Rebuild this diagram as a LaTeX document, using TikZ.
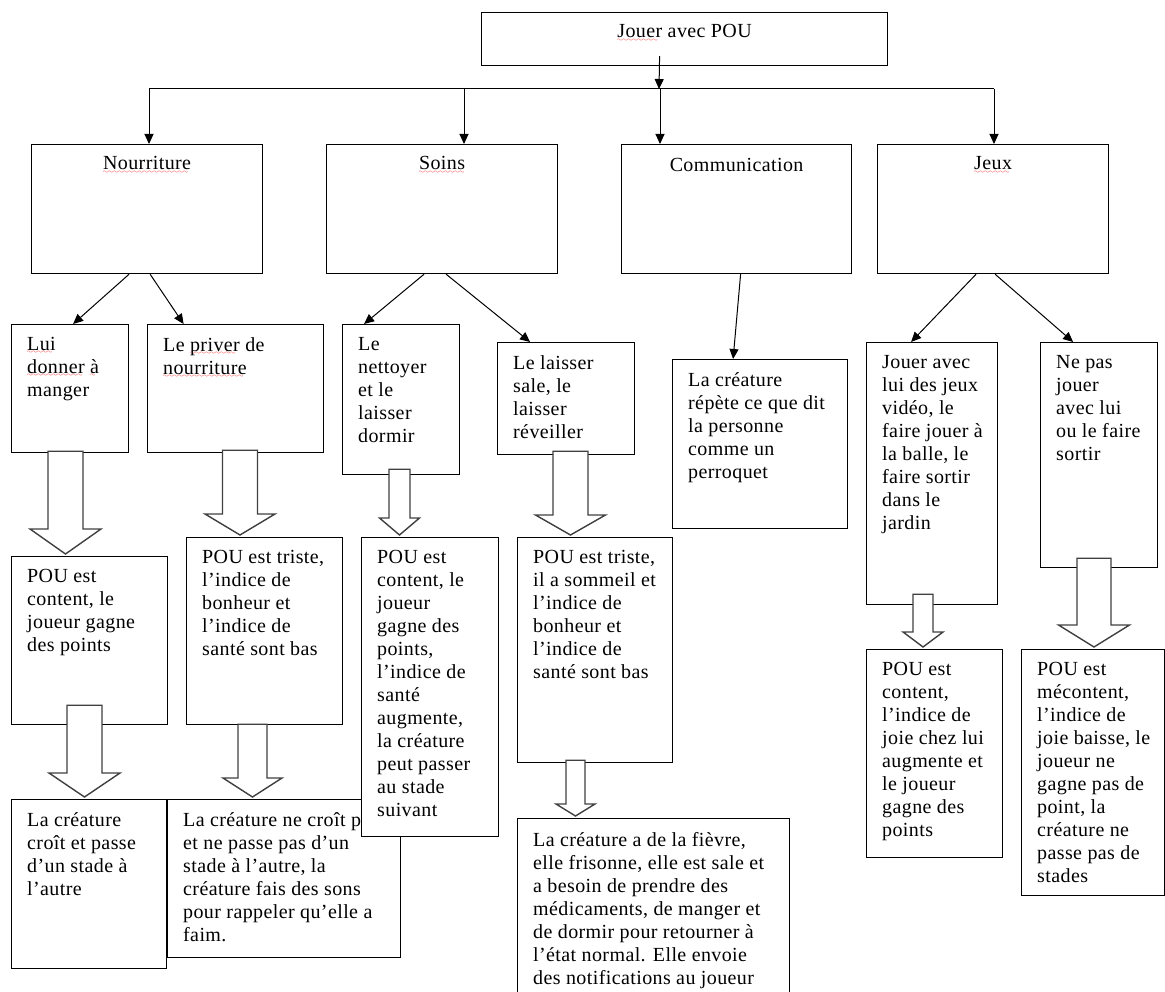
\documentclass[tikz,border=0pt]{standalone}
\usepackage{fontspec}
\setmainfont[LetterSpace=2]{Liberation Serif}
\usepackage{tikz}
\usetikzlibrary{arrows.meta,calc}

% soulignement rouge du correcteur
\font\sixly=lasy6
\newcommand{\faute}[1]{\setbox0\hbox{#1}\rlap{\textcolor{red}{\lower3.5pt\hbox to \wd0{\leaders\hbox{\sixly\char58}\hfil}}}\box0\relax}

% grosse fleche creuse : x, depart, arrivee, recouvrement, demi-tige, demi-tete, longueur tete
\newcommand{\grossefleche}[7]{%
  \draw[creuse] let \p1=(#2.south), \p2=(#3.north) in
    ({#1pt-#5pt},{\y1+#4pt}) -- ({#1pt-#5pt},{\y2+#7pt+2pt})
    -- ({#1pt-#6pt},{\y2+#7pt+2pt}) -- ({#1pt},{\y2+2pt})
    -- ({#1pt+#6pt},{\y2+#7pt+2pt}) -- ({#1pt+#5pt},{\y2+#7pt+2pt})
    -- ({#1pt+#5pt},{\y1+#4pt}) -- cycle;}

\tikzset{
  boite/.style={draw, line width=1.2pt, fill=white, anchor=north west, inner sep=0pt},
  texte/.style={anchor=north west, inner sep=0pt, align=left, font=\fontsize{20}{23}\selectfont},
  titre/.style={inner sep=0pt, font=\fontsize{20}{23}\selectfont},
  fil/.style={-{Triangle[length=10pt,width=9pt]}, line width=1pt},
  creuse/.style={draw=black!75, line width=1.4pt, fill=white, line join=miter},
}

\begin{document}
\begin{tikzpicture}[x=1pt,y=-1pt]
			\useasboundingbox (0,0) rectangle (1165,992);
			% niveau 1
			\node[boite, minimum width=406pt, minimum height=53pt] (haut) at (481,12) {};
			\node[titre] (t-haut) at ([yshift=-21pt]haut.north) {\faute{Jouer} avec POU};
			% niveau 2
			\node[boite, minimum width=231pt, minimum height=129pt] (nour) at (31,144) {};
			\node[boite, minimum width=231pt, minimum height=129pt] (soins) at (326,144) {};
			\node[boite, minimum width=230pt, minimum height=129pt] (comm) at (621,144) {};
			\node[boite, minimum width=231pt, minimum height=129pt] (jeux) at (877,144) {};
			\node[titre] (t-nour) at ([yshift=-21pt]nour.north) {\faute{Nourriture}};
			\node[titre] (t-soins) at ([yshift=-21pt]soins.north) {\faute{Soins}};
			\node[titre] (t-comm) at ([yshift=-21pt]comm.north) {Communication};
			\node[titre] (t-jeux) at ([yshift=-21pt]jeux.north) {\faute{Jeux}};
			% niveau 3
			\node[boite, minimum width=117pt, minimum height=128pt] (lui) at (11,324) {};
			\node[boite, minimum width=176pt, minimum height=128pt] (priver) at (147,324) {};
			\node[boite, minimum width=117pt, minimum height=150pt] (nettoyer) at (342,324) {};
			\node[boite, minimum width=137pt, minimum height=112pt] (sale) at (497,342) {};
			\node[boite, minimum width=175pt, minimum height=169pt] (repete) at (672,359) {};
			\node[boite, minimum width=131pt, minimum height=262pt] (jouer) at (866,342) {};
			\node[boite, minimum width=117pt, minimum height=225pt] (nepas) at (1040,342) {};
			\node[texte] (t-lui) at ([shift={(16,13)}]lui.north west) {\faute{Lui}\\ \faute{donner} \faute{à}\\ manger};
			\node[texte] (t-priver) at ([shift={(16,13)}]priver.north west) {Le \faute{priver} de\\ \faute{nourriture}};
			\node[texte] (t-nettoyer) at ([shift={(16,13)}]nettoyer.north west) {Le\\ nettoyer\\ et le\\ laisser\\ dormir};
			\node[texte] (t-sale) at ([shift={(16,13)}]sale.north west) {Le laisser\\ sale, le\\ laisser\\ réveiller};
			\node[texte] (t-repete) at ([shift={(16,13)}]repete.north west) {La créature\\ répète ce que dit\\ la personne\\ comme un\\ perroquet};
			\node[texte] (t-jouer) at ([shift={(16,13)}]jouer.north west) {Jouer avec\\ lui des jeux\\ vidéo, le\\ faire jouer à\\ la balle, le\\ faire sortir\\ dans le\\ jardin};
			\node[texte] (t-nepas) at ([shift={(16,13)}]nepas.north west) {Ne pas\\ jouer\\ avec lui\\ ou le faire\\ sortir};
			% niveau 5 (avant le niveau 4, qui le recouvre)
			\node[boite, minimum width=155pt, minimum height=169pt] (croit) at (11,799) {};
			\node[texte] (t-croit) at ([shift={(16,13)}]croit.north west) {La créature\\ croît et passe\\ d’un stade à\\ l’autre};
			\node[boite, minimum width=233pt, minimum height=158pt] (necroit) at (167,799) {};
			\node[texte] (t-necroit) at ([shift={(16,13)}]necroit.north west) {La créature ne croît pas\\ et ne passe pas d’un\\ stade à l’autre, la\\ créature fais des sons\\ pour rappeler qu’elle a\\ faim.};
			\node[boite, minimum width=272pt, minimum height=200pt] (fievre) at (517,818) {};
			\node[texte] (t-fievre) at ([shift={(16,14)}]fievre.north west) {La créature a de la fièvre,\\ elle frisonne, elle est sale et\\ a besoin de prendre des\\ médicaments, de manger et\\ de dormir pour retourner à\\ l’état normal. Elle envoie\\ des notifications au joueur};
			% niveau 4
			\node[boite, minimum width=156pt, minimum height=168pt] (contentA) at (11,556) {};
			\node[boite, minimum width=156pt, minimum height=187pt] (tristeA) at (186,537) {};
			\node[boite, minimum width=137pt, minimum height=299pt] (contentB) at (361,537) {};
			\node[boite, minimum width=155pt, minimum height=225pt] (tristeB) at (517,537) {};
			\node[boite, minimum width=136pt, minimum height=208pt] (contentC) at (866,649) {};
			\node[boite, minimum width=143pt, minimum height=246pt] (mecontent) at (1021,649) {};
			\node[texte] (t-contentA) at ([shift={(16,13)}]contentA.north west) {POU est\\ content, le\\ joueur gagne\\ des points};
			\node[texte] (t-tristeA) at ([shift={(16,13)}]tristeA.north west) {POU est triste,\\ l’indice de\\ bonheur et\\ l’indice de\\ santé sont bas};
			\node[texte] (t-contentB) at ([shift={(16,13)}]contentB.north west) {POU est\\ content, le\\ joueur\\ gagne des\\ points,\\ l’indice de\\ santé\\ augmente,\\ la créature\\ peut passer\\ au stade\\ suivant};
			\node[texte] (t-tristeB) at ([shift={(16,13)}]tristeB.north west) {POU est triste,\\ il a sommeil et\\ l’indice de\\ bonheur et\\ l’indice de\\ santé sont bas};
			\node[texte] (t-contentC) at ([shift={(16,13)}]contentC.north west) {POU est\\ content,\\ l’indice de\\ joie chez lui\\ augmente et\\ le joueur\\ gagne des\\ points};
			\node[texte] (t-mecontent) at ([shift={(16,13)}]mecontent.north west) {POU est\\ mécontent,\\ l’indice de\\ joie baisse, le\\ joueur ne\\ gagne pas de\\ point, la\\ créature ne\\ passe pas de\\ stades};
			% fleches fines
			\coordinate (embr) at (659,89);
			\coordinate (d1) at (149,89);
			\coordinate (d2) at (464,89);
			\coordinate (d3) at (660,89);
			\coordinate (d4) at (994,89);
			\draw[fil] ([xshift=-25pt,yshift=10pt]haut.south) -- (embr);
			\draw[line width=1pt] (d1) -- (d4);
			\foreach \d/\b in {d1/nour, d2/soins, d3/comm, d4/jeux}
				\draw[fil] (\d) -- (\d |- \b.north);
			\draw[fil] ([xshift=-18pt]nour.south) -- ([xshift=3pt]lui.north);
			\draw[fil] ([xshift=3pt]nour.south) -- ([xshift=-52pt]priver.north);
			\draw[fil] ([xshift=-18pt]soins.south) -- ([xshift=-37pt]nettoyer.north);
			\draw[fil] ([xshift=4pt]soins.south) -- ([xshift=-36pt]sale.north);
			\draw[fil] ([xshift=4pt]comm.south) -- ([xshift=-27pt]repete.north);
			\draw[fil] ([xshift=-17pt]jeux.south) -- ([xshift=-21pt]jouer.north);
			\draw[fil] ([xshift=2pt]jeux.south) -- ([xshift=-26pt]nepas.north);
			% grosses fleches
			\grossefleche{65.5}{lui}{contentA}{2}{17.5}{35.5}{25}
			\grossefleche{240}{priver}{tristeA}{3}{17.5}{35}{21}
			\grossefleche{84.5}{contentA}{croit}{20}{17.5}{35.5}{24}
			\grossefleche{252.5}{tristeA}{necroit}{1}{14.5}{29.5}{19}
			\grossefleche{399.5}{nettoyer}{contentB}{6}{10.5}{20}{17}
			\grossefleche{570.5}{sale}{tristeB}{4}{17.5}{35}{20}
			\grossefleche{575.5}{tristeB}{fievre}{3}{9.5}{19.5}{12}
			\grossefleche{923}{jouer}{contentC}{11}{10}{20}{15}
			\grossefleche{1094}{nepas}{mecontent}{10}{17}{35.5}{22}
		\end{tikzpicture}
\end{document}
